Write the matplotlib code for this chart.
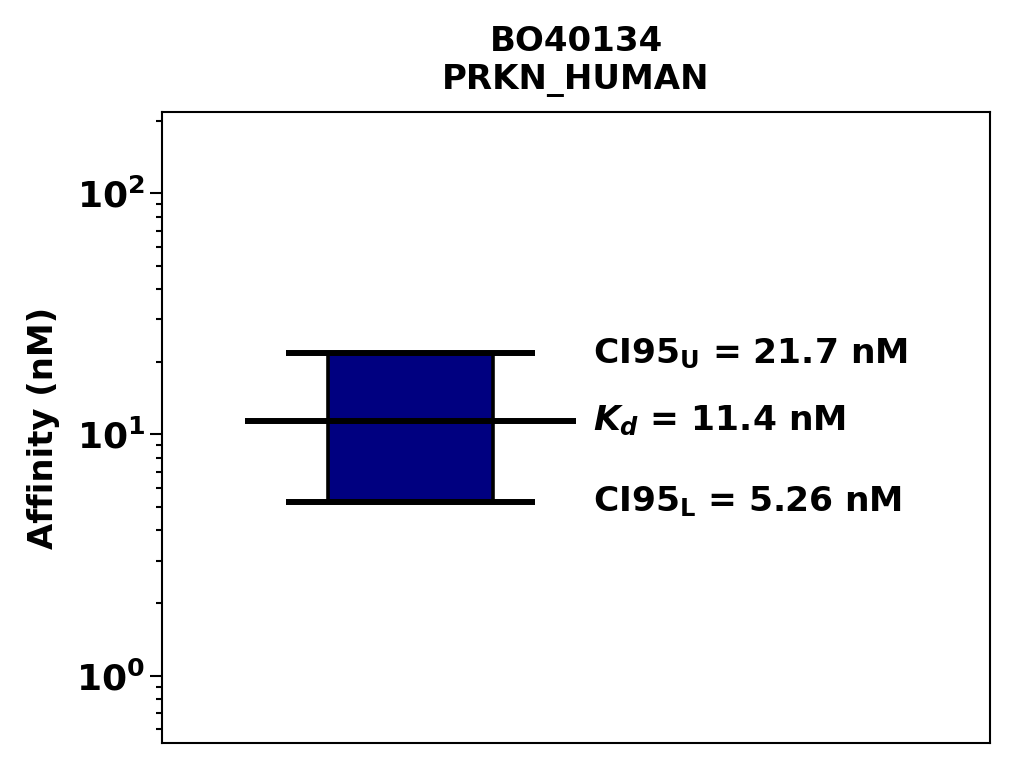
import numpy as np
import matplotlib
matplotlib.use('Agg')
import matplotlib.pyplot as plt

# values
compound = 'BO40134'
target = 'PRKN_HUMAN'
kd = 11.4
ci_lower = 5.26
ci_upper = 21.7

plt.rcParams['font.family'] = 'DejaVu Sans'
plt.rcParams['font.weight'] = 'bold'
plt.rcParams['mathtext.fontset'] = 'custom'
plt.rcParams['mathtext.rm'] = 'DejaVu Sans:bold'
plt.rcParams['mathtext.bf'] = 'DejaVu Sans:bold'
plt.rcParams['mathtext.it'] = 'DejaVu Sans:italic:bold'

fig = plt.figure(figsize=(10.14, 7.68), dpi=100)
ax = fig.add_axes([0.1598, 0.0326, 0.8165, 0.8216])

centre = 0.3
# box between the confidence bounds
ax.bar(centre, ci_upper - ci_lower, bottom=ci_lower, width=0.2,
       color='navy', edgecolor='black', linewidth=2.6, zorder=2)
# CI bounds and Kd lines
ax.hlines([ci_lower, ci_upper], centre - 0.15, centre + 0.15,
          color='black', linewidth=4.3, capstyle='butt', zorder=3)
ax.hlines(kd, centre - 0.2, centre + 0.2,
          color='black', linewidth=4.3, capstyle='butt', zorder=3)

ax.set_yscale('log')
ax.set_xlim(0, 1)
ax.set_ylim(ci_lower / 10, ci_upper * 10)
ax.set_xticks([])

ax.text(0.52, ci_upper, r'CI95$_\mathrm{U}$ = %.1f nM' % ci_upper,
        fontsize=24.8, fontweight='bold', va='center', ha='left')
ax.text(0.52, kd, r'$K_d$ = %.1f nM' % kd,
        fontsize=24.8, fontweight='bold', va='center', ha='left')
ax.text(0.52, ci_lower, r'CI95$_\mathrm{L}$ = %.2f nM' % ci_lower,
        fontsize=24.8, fontweight='bold', va='center', ha='left')

ax.set_ylabel('Affinity (nM)', fontsize=24.4, fontweight='bold', labelpad=12)
ax.set_title(compound + '\n' + target, fontsize=24.5, fontweight='bold', pad=16.5)

for s in ax.spines.values():
    s.set_linewidth(1.5)
ax.tick_params(axis='y', which='major', labelsize=26, length=8.6, width=1.5)
ax.tick_params(axis='y', which='minor', length=4.3, width=1.5)

fig.savefig('out.png', dpi=100)
